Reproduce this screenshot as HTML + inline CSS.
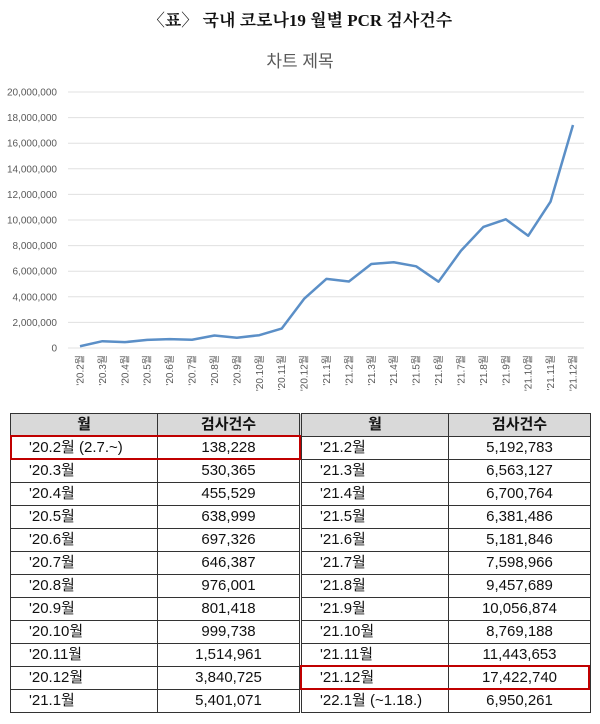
<!DOCTYPE html>
<html><head><meta charset="utf-8">
<style>
body{margin:0;width:600px;height:724px;background:#fff;overflow:hidden;font-family:"Liberation Sans","Noto Sans CJK KR",sans-serif;}
#title{position:absolute;left:0;top:6px;width:600px;text-align:center;font-family:"Liberation Serif","Noto Serif CJK SC","Noto Sans CJK KR",serif;font-weight:bold;font-size:17px;color:#111;}
svg{position:absolute;left:0;top:0;}
table{position:absolute;left:10px;top:413px;border-collapse:collapse;font-family:"Liberation Sans","Noto Sans CJK KR",sans-serif;font-size:15px;color:#111;}
td,th{border:1px solid #333;height:22px;padding:0;line-height:22px;}
th{background:#d9d9d9;font-weight:bold;}
td.m{text-align:left;padding-left:18px;}
td.v{text-align:center;}
.c1{width:146px}.c2{width:141px}.c3{width:146px}.c4{width:141px}
.dbl{border-left:3px double #333;}
.red{position:absolute;border:2px solid #c00000;box-sizing:border-box;}
</style></head><body>
<div id="title">〈표〉 국내 코로나19 월별 PCR 검사건수</div>
<svg id="chart" width="600" height="410"></svg>
<table>
<tr><th class="c1">월</th><th class="c2">검사건수</th><th class="c3 dbl">월</th><th class="c4">검사건수</th></tr>
<tr><td class="m">'20.2월 (2.7.~)</td><td class="v">138,228</td><td class="m dbl">'21.2월</td><td class="v">5,192,783</td></tr>
<tr><td class="m">'20.3월</td><td class="v">530,365</td><td class="m dbl">'21.3월</td><td class="v">6,563,127</td></tr>
<tr><td class="m">'20.4월</td><td class="v">455,529</td><td class="m dbl">'21.4월</td><td class="v">6,700,764</td></tr>
<tr><td class="m">'20.5월</td><td class="v">638,999</td><td class="m dbl">'21.5월</td><td class="v">6,381,486</td></tr>
<tr><td class="m">'20.6월</td><td class="v">697,326</td><td class="m dbl">'21.6월</td><td class="v">5,181,846</td></tr>
<tr><td class="m">'20.7월</td><td class="v">646,387</td><td class="m dbl">'21.7월</td><td class="v">7,598,966</td></tr>
<tr><td class="m">'20.8월</td><td class="v">976,001</td><td class="m dbl">'21.8월</td><td class="v">9,457,689</td></tr>
<tr><td class="m">'20.9월</td><td class="v">801,418</td><td class="m dbl">'21.9월</td><td class="v">10,056,874</td></tr>
<tr><td class="m">'20.10월</td><td class="v">999,738</td><td class="m dbl">'21.10월</td><td class="v">8,769,188</td></tr>
<tr><td class="m">'20.11월</td><td class="v">1,514,961</td><td class="m dbl">'21.11월</td><td class="v">11,443,653</td></tr>
<tr><td class="m">'20.12월</td><td class="v">3,840,725</td><td class="m dbl">'21.12월</td><td class="v">17,422,740</td></tr>
<tr><td class="m">'21.1월</td><td class="v">5,401,071</td><td class="m dbl">'22.1월 (~1.18.)</td><td class="v">6,950,261</td></tr>
</table>
<div class="red" style="left:10px;top:435px;width:291px;height:25px"></div>
<div class="red" style="left:300px;top:665px;width:290px;height:25px"></div>
<script>
const categories=["'20.2","'20.3","'20.4","'20.5","'20.6","'20.7","'20.8","'20.9","'20.10","'20.11","'20.12","'21.1","'21.2","'21.3","'21.4","'21.5","'21.6","'21.7","'21.8","'21.9","'21.10","'21.11","'21.12"];
const values=[138228,530365,455529,638999,697326,646387,976001,801418,999738,1514961,3840725,5401071,5192783,6563127,6700764,6381486,5181846,7598966,9457689,10056874,8769188,11443653,17422740];
const yTicks=[0,2000000,4000000,6000000,8000000,10000000,12000000,14000000,16000000,18000000,20000000];
const NS='http://www.w3.org/2000/svg';
const svg=document.getElementById('chart');
const y=v=>348-v/20000000*256;
const x=i=>80+i*(573-80)/(categories.length-1);
function mk(t,a){const e=document.createElementNS(NS,t);for(const k in a)e.setAttribute(k,a[k]);svg.appendChild(e);return e;}
const ct=mk('text',{x:300,y:67,'text-anchor':'middle','font-size':17,fill:'#595959','font-family':'Liberation Sans, Noto Sans CJK KR, sans-serif'});
ct.textContent='차트 제목';


yTicks.forEach(t=>{
  const g=mk('line',{x1:68,x2:584,y1:y(t),y2:y(t),stroke:'#e0e0e0','stroke-width':1});
  
  
  const l=mk('text',{x:57,y:y(t)+3.5,'text-anchor':'end','font-size':10,fill:'#595959'});
  l.textContent=t.toLocaleString('en-US');
  
  
});
categories.forEach((c,i)=>{
  const l=mk('text',{x:0,y:0,'text-anchor':'end','font-size':10,fill:'#595959',transform:`translate(${x(i)+3.5},355) rotate(-90)`,'font-family':'Liberation Sans, Noto Sans CJK KR, sans-serif'});
  l.textContent=c+'월';
  
  
});
const p=mk('polyline',{points:values.map((v,i)=>x(i)+','+y(v)).join(' '),fill:'none',stroke:'#5b8fc7','stroke-width':2.5,'stroke-linejoin':'round'});


</script>
</body></html>
